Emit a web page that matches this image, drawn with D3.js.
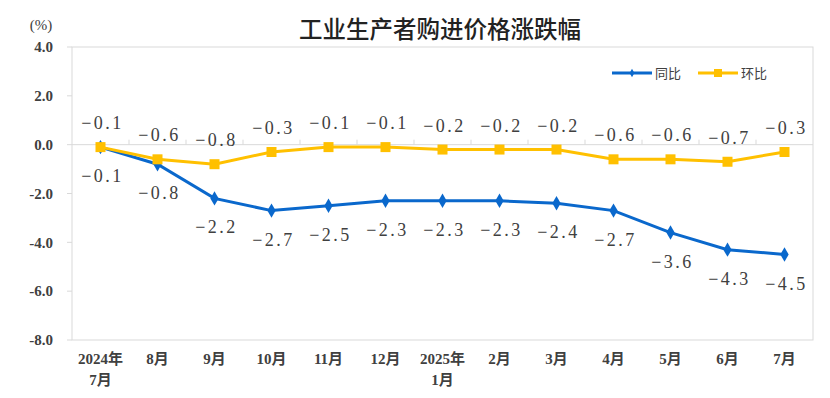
<!DOCTYPE html>
<html>
<head>
<meta charset="utf-8">
<script src="https://cdn.jsdelivr.net/npm/d3@7"></script>
<style>
body { margin: 0; background: #fff; }
svg { display: block; }
</style>
</head>
<body>
<svg></svg>
<script>
let width = 830
let height = 398

let months = [
    ['2024年', '7月'], ['8月'], ['9月'], ['10月'], ['11月'], ['12月'],
    ['2025年', '1月'], ['2月'], ['3月'], ['4月'], ['5月'], ['6月'], ['7月']
]
let yoy = [-0.1, -0.8, -2.2, -2.7, -2.5, -2.3, -2.3, -2.3, -2.4, -2.7, -3.6, -4.3, -4.5]
let mom = [-0.1, -0.6, -0.8, -0.3, -0.1, -0.1, -0.2, -0.2, -0.2, -0.6, -0.6, -0.7, -0.3]
let yTicks = [4, 2, 0, -2, -4, -6, -8]

let blue = '#0a68cc'
let yellow = '#ffc000'
let grid = '#d9d9d9'
let serif = '"Liberation Serif", "Times New Roman", "Noto Sans CJK SC", serif'
let cjk = '"Noto Sans CJK SC", sans-serif'

let margin = { left: 72, right: 17, top: 47, bottom: 58 }

let svg = d3.select('svg')
    .attr('width', width)
    .attr('height', height)

let x = d3.scaleBand()
    .domain(d3.range(months.length))
    .range([margin.left, width - margin.right])
let y = d3.scaleLinear()
    .domain([-8, 4])
    .range([height - margin.bottom, margin.top])

// frame
svg.append('rect')
    .attr('x', margin.left)
    .attr('y', margin.top)
    .attr('width', width - margin.left - margin.right)
    .attr('height', height - margin.top - margin.bottom)
    .attr('fill', 'none')
    .attr('stroke', grid)

// y axis ticks and labels
let yAxis = svg.append('g')
yAxis.selectAll('line')
    .data(yTicks).enter()
    .append('line')
    .attr('x1', margin.left - 5)
    .attr('x2', margin.left)
    .attr('y1', d => y(d))
    .attr('y2', d => y(d))
    .attr('stroke', grid)
yAxis.selectAll('text')
    .data(yTicks).enter()
    .append('text')
    .attr('x', 53)
    .attr('y', d => y(d))
    .attr('dy', '0.35em')
    .attr('text-anchor', 'end')
    .style('font-family', serif)
    .style('font-size', '15px')
    .style('font-weight', 'bold')
    .style('fill', '#404040')
    .text(d => d.toFixed(1))

svg.append('text')
    .attr('x', 41)
    .attr('y', 30)
    .attr('text-anchor', 'middle')
    .style('font-family', serif)
    .style('font-size', '15px')
    .style('fill', '#404040')
    .text('(%)')

// zero line with category ticks
svg.append('line')
    .attr('x1', margin.left)
    .attr('x2', width - margin.right)
    .attr('y1', y(0))
    .attr('y2', y(0))
    .attr('stroke', grid)
svg.append('g').selectAll('line')
    .data(d3.range(1, months.length)).enter()
    .append('line')
    .attr('x1', d => x(d))
    .attr('x2', d => x(d))
    .attr('y1', y(0))
    .attr('y2', y(0) - 5)
    .attr('stroke', grid)

// x labels
let xLab = svg.append('g').selectAll('text')
    .data(months).enter()
    .append('text')
    .attr('text-anchor', 'middle')
    .style('font-family', serif)
    .style('font-size', '15px')
    .style('font-weight', 'bold')
    .style('fill', '#404040')
xLab.selectAll('tspan')
    .data((d, i) => d.map(t => ({ t, i })))
    .enter()
    .append('tspan')
    .attr('x', d => x(d.i) + x.bandwidth() / 2)
    .attr('y', (d, j) => 364 + j * 21)
    .text(d => d.t)

let cx = i => x(i) + x.bandwidth() / 2

// series lines
let line = d3.line()
    .x((d, i) => cx(i))
    .y(d => y(d))

svg.append('path')
    .datum(yoy)
    .attr('d', line)
    .attr('fill', 'none')
    .attr('stroke', blue)
    .attr('stroke-width', 3)
svg.append('g').selectAll('path')
    .data(yoy).enter()
    .append('path')
    .attr('d', d3.symbol(d3.symbolDiamond, 60))
    .attr('transform', (d, i) => `translate(${cx(i)},${y(d)})`)
    .attr('fill', blue)

svg.append('path')
    .datum(mom)
    .attr('d', line)
    .attr('fill', 'none')
    .attr('stroke', yellow)
    .attr('stroke-width', 3)
svg.append('g').selectAll('rect')
    .data(mom).enter()
    .append('rect')
    .attr('x', (d, i) => cx(i) - 5)
    .attr('y', d => y(d) - 5)
    .attr('width', 10)
    .attr('height', 10)
    .attr('fill', yellow)

// data labels
let fmt = d => d.toFixed(1).replace('-', '−')
function labels(values, dy) {
    svg.append('g').selectAll('text')
        .data(values).enter()
        .append('text')
        .attr('x', (d, i) => cx(i) + 2)
        .attr('y', d => y(d) + dy)
        .attr('text-anchor', 'middle')
        .style('font-family', serif)
        .style('font-size', '18px')
        .style('letter-spacing', '2.5px')
        .style('fill', '#404040')
        .text(fmt)
}
labels(mom, -18)
labels(yoy, 35)

// title
svg.append('text')
    .attr('x', 440)
    .attr('y', 38)
    .attr('text-anchor', 'middle')
    .style('font-family', cjk)
    .style('font-size', '23.5px')
    .style('font-weight', '500')
    .style('fill', '#222')
    .text('工业生产者购进价格涨跌幅')

// legend
let legend = svg.append('g').attr('transform', 'translate(612,73)')
legend.append('line')
    .attr('x1', 0).attr('x2', 40)
    .attr('stroke', blue).attr('stroke-width', 3)
legend.append('path')
    .attr('d', d3.symbol(d3.symbolDiamond, 20))
    .attr('transform', 'translate(20,0)')
    .attr('fill', blue)
legend.append('text')
    .attr('x', 43).attr('dy', '0.35em')
    .style('font-family', cjk).style('font-size', '13px').style('fill', '#404040')
    .text('同比')
legend.append('line')
    .attr('x1', 86).attr('x2', 126)
    .attr('stroke', yellow).attr('stroke-width', 3)
legend.append('rect')
    .attr('x', 102).attr('y', -4).attr('width', 8).attr('height', 8)
    .attr('fill', yellow)
legend.append('text')
    .attr('x', 129).attr('dy', '0.35em')
    .style('font-family', cjk).style('font-size', '13px').style('fill', '#404040')
    .text('环比')
</script>
</body>
</html>
